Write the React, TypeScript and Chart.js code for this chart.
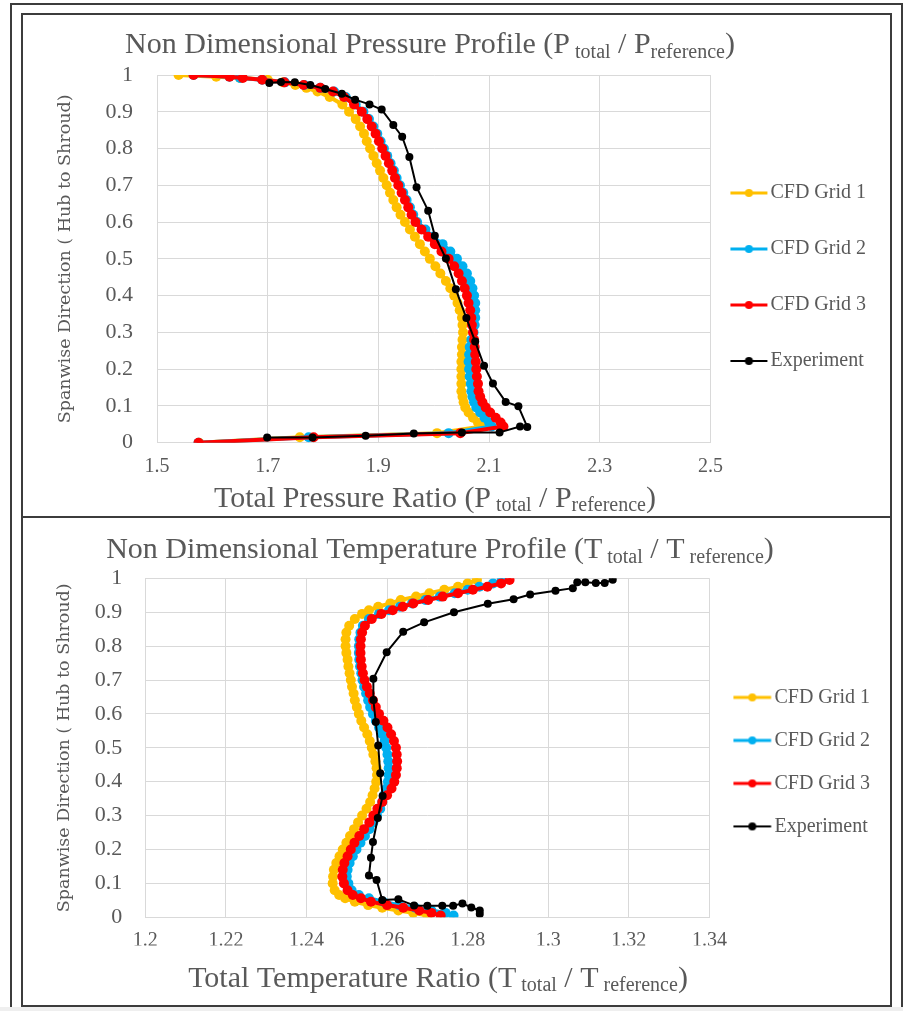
import React, { useEffect, useRef } from 'react';
import { Chart, registerables } from 'chart.js';

Chart.register(...registerables);

const SERIF = "'Liberation Serif', 'Times New Roman', serif";
const WIDE_SERIF = "'DejaVu Serif', serif";
const TEXT_GRAY = '#595959';
const GRID_GRAY = '#d9d9d9';

const seriesNames = ['CFD Grid 1', 'CFD Grid 2', 'CFD Grid 3', 'Experiment'];
const seriesColors = ['#FFC000', '#00B0F0', '#FF0000', '#000000'];

// ---------- axis ticks ----------
const spanTicks = [0, 0.1, 0.2, 0.3, 0.4, 0.5, 0.6, 0.7, 0.8, 0.9, 1];
const spanTickLabels = ['0', '0.1', '0.2', '0.3', '0.4', '0.5', '0.6', '0.7', '0.8', '0.9', '1'];
const pressureTicks = [1.5, 1.7, 1.9, 2.1, 2.3, 2.5];
const pressureTickLabels = ['1.5', '1.7', '1.9', '2.1', '2.3', '2.5'];
const tempTicks = [1.2, 1.22, 1.24, 1.26, 1.28, 1.3, 1.32, 1.34];
const tempTickLabels = ['1.2', '1.22', '1.24', '1.26', '1.28', '1.3', '1.32', '1.34'];

// ---------- pressure profile (top chart) ----------
const spanCfdP = [0, 0.015, 0.026, 0.044, 0.055, 0.068, 0.082, 0.096, 0.110, 0.125,
  0.14, 0.16, 0.18, 0.20, 0.22, 0.24, 0.26, 0.28, 0.30, 0.32,
  0.34, 0.36, 0.38, 0.40, 0.42, 0.44, 0.46, 0.48, 0.50, 0.52,
  0.54, 0.56, 0.58, 0.60, 0.62, 0.64, 0.66, 0.68, 0.70, 0.72,
  0.74, 0.76, 0.78, 0.80, 0.82, 0.84, 0.86, 0.88, 0.90, 0.92,
  0.94, 0.955, 0.965, 0.973, 0.980, 0.987, 0.992, 0.995, 1.0];
const grid1P = [1.576, 1.758, 2.006, 2.087, 2.080, 2.071, 2.063, 2.057, 2.054, 2.052,
  2.050, 2.050, 2.050, 2.050, 2.050, 2.051, 2.051, 2.052, 2.053, 2.052,
  2.051, 2.047, 2.043, 2.037, 2.030, 2.022, 2.012, 2.003, 1.993, 1.984,
  1.975, 1.966, 1.957, 1.948, 1.940, 1.933, 1.927, 1.921, 1.915, 1.909,
  1.903, 1.897, 1.891, 1.885, 1.879, 1.874, 1.867, 1.859, 1.847, 1.835,
  1.812, 1.790, 1.770, 1.750, 1.728, 1.700, 1.650, 1.607, 1.539];
const grid2P = [1.575, 1.774, 2.027, 2.105, 2.100, 2.092, 2.084, 2.077, 2.073, 2.070,
  2.068, 2.067, 2.065, 2.064, 2.063, 2.064, 2.065, 2.068, 2.072, 2.074,
  2.075, 2.075, 2.075, 2.073, 2.070, 2.066, 2.060, 2.052, 2.042, 2.030,
  2.016, 1.998, 1.985, 1.970, 1.963, 1.957, 1.951, 1.945, 1.939, 1.933,
  1.928, 1.922, 1.916, 1.910, 1.904, 1.898, 1.891, 1.883, 1.873, 1.859,
  1.841, 1.820, 1.795, 1.766, 1.731, 1.690, 1.650, 1.631, 1.566];
const grid3P = [1.575, 1.783, 2.048, 2.126, 2.121, 2.112, 2.102, 2.094, 2.088, 2.084,
  2.081, 2.080, 2.078, 2.077, 2.076, 2.075, 2.074, 2.073, 2.071, 2.069,
  2.068, 2.066, 2.063, 2.060, 2.056, 2.051, 2.045, 2.037, 2.027, 2.014,
  2.002, 1.990, 1.978, 1.967, 1.960, 1.954, 1.948, 1.942, 1.936, 1.930,
  1.925, 1.919, 1.913, 1.907, 1.901, 1.895, 1.888, 1.880, 1.870, 1.856,
  1.838, 1.818, 1.795, 1.765, 1.730, 1.690, 1.655, 1.631, 1.566];
const expP = [1.699, 1.781, 1.877, 1.964, 2.051, 2.119, 2.156, 2.169, 2.153, 2.130,
  2.107, 2.091, 2.075, 2.059, 2.040, 2.022, 2.002, 1.990, 1.969, 1.956,
  1.943, 1.927, 1.906, 1.884, 1.858, 1.834, 1.804, 1.777, 1.749, 1.724, 1.703];
const spanExpP = [0.014, 0.014, 0.019, 0.025, 0.028, 0.028, 0.044, 0.043, 0.099, 0.111,
  0.161, 0.209, 0.275, 0.339, 0.417, 0.501, 0.563, 0.631, 0.695, 0.777,
  0.832, 0.864, 0.906, 0.920, 0.933, 0.949, 0.962, 0.973, 0.980, 0.981, 0.978];

// ---------- temperature profile (bottom chart) ----------
const spanCfdT = [0.005, 0.013, 0.020, 0.028, 0.036, 0.046, 0.056, 0.066, 0.080, 0.100,
  0.12, 0.14, 0.16, 0.18, 0.20, 0.22, 0.24, 0.26, 0.28, 0.30,
  0.32, 0.34, 0.36, 0.38, 0.40, 0.42, 0.44, 0.46, 0.48, 0.50,
  0.52, 0.54, 0.56, 0.58, 0.60, 0.62, 0.64, 0.66, 0.68, 0.70,
  0.72, 0.74, 0.76, 0.78, 0.80, 0.82, 0.84, 0.86,
  0.880, 0.895, 0.906, 0.916, 0.926, 0.936, 0.946, 0.956, 0.966, 0.975, 0.985, 0.995];
const grid1T = [1.2700, 1.2665, 1.2628, 1.2588, 1.2553, 1.2520, 1.2496, 1.2481, 1.2470, 1.2465,
  1.2466, 1.2468, 1.2474, 1.2482, 1.2490, 1.2499, 1.2508, 1.2518, 1.2528, 1.2538,
  1.2549, 1.2558, 1.2564, 1.2569, 1.2573, 1.2575, 1.2574, 1.2571, 1.2566, 1.2562,
  1.2557, 1.2551, 1.2543, 1.2536, 1.2530, 1.2525, 1.2520, 1.2517, 1.2513, 1.2510,
  1.2507, 1.2504, 1.2502, 1.2499, 1.2497, 1.2497, 1.2499, 1.2506,
  1.2520, 1.2538, 1.2555, 1.2578, 1.2608, 1.2634, 1.2672, 1.2705, 1.2742, 1.2776, 1.2800, 1.2823];
const grid2T = [1.2765, 1.2745, 1.2710, 1.2670, 1.2630, 1.2590, 1.2555, 1.2530, 1.2512, 1.2504,
  1.2500, 1.2502, 1.2507, 1.2515, 1.2524, 1.2534, 1.2545, 1.2556, 1.2566, 1.2575,
  1.2583, 1.2588, 1.2592, 1.2598, 1.2602, 1.2604, 1.2604, 1.2603, 1.2601, 1.2598,
  1.2594, 1.2588, 1.2580, 1.2572, 1.2565, 1.2558, 1.2553, 1.2548, 1.2543, 1.2539,
  1.2536, 1.2533, 1.2531, 1.2530, 1.2530, 1.2531, 1.2534, 1.2540,
  1.2555, 1.2580, 1.2605, 1.2632, 1.2662, 1.2695, 1.2731, 1.2768, 1.2800, 1.2829, 1.2863, 1.2885];
const grid3T = [1.2733, 1.2710, 1.2680, 1.2640, 1.2600, 1.2560, 1.2535, 1.2515, 1.2502, 1.2493,
  1.2489, 1.2490, 1.2494, 1.2502, 1.2510, 1.2519, 1.2531, 1.2543, 1.2556, 1.2566,
  1.2576, 1.2588, 1.2600, 1.2611, 1.2618, 1.2622, 1.2624, 1.2625, 1.2624, 1.2622,
  1.2617, 1.2610, 1.2601, 1.2591, 1.2580, 1.2572, 1.2565, 1.2557, 1.2550, 1.2544,
  1.2540, 1.2537, 1.2535, 1.2534, 1.2534, 1.2535, 1.2538, 1.2545,
  1.2562, 1.2586, 1.2614, 1.2639, 1.2665, 1.2702, 1.2738, 1.2776, 1.2813, 1.2849, 1.2883, 1.2904];
const expT = [1.2830, 1.2830, 1.2809, 1.2787, 1.2764, 1.2737, 1.2700, 1.2667, 1.2628, 1.2588,
  1.2574, 1.2555, 1.2560, 1.2565, 1.2577, 1.2589, 1.2583, 1.2578, 1.2572, 1.2566,
  1.2566, 1.2599, 1.2640, 1.2692, 1.2766, 1.2850, 1.2914, 1.2955, 1.3018, 1.3061,
  1.3072, 1.3092, 1.3118, 1.3140, 1.3160];
const spanExpT = [0.010, 0.020, 0.029, 0.041, 0.034, 0.034, 0.034, 0.035, 0.053, 0.051,
  0.110, 0.123, 0.176, 0.222, 0.293, 0.358, 0.425, 0.507, 0.576, 0.641,
  0.704, 0.782, 0.842, 0.870, 0.900, 0.925, 0.938, 0.952, 0.963, 0.971,
  0.988, 0.988, 0.986, 0.986, 0.996];

// ---------- titles (rich text with subscripts) ----------
type Seg = { text: string; size: number; sub?: boolean };
const pressureTitle: Seg[] = [
  { text: 'Non Dimensional Pressure Profile (P', size: 30 },
  { text: ' total', size: 20, sub: true },
  { text: ' / P', size: 30 },
  { text: 'reference', size: 20, sub: true },
  { text: ')', size: 30 },
];
const pressureXTitle: Seg[] = [
  { text: 'Total Pressure Ratio (P', size: 30 },
  { text: ' total', size: 20, sub: true },
  { text: ' / P', size: 30 },
  { text: 'reference', size: 20, sub: true },
  { text: ')', size: 30 },
];
const tempTitle: Seg[] = [
  { text: 'Non Dimensional Temperature Profile (T', size: 30 },
  { text: ' total', size: 20, sub: true },
  { text: ' / T', size: 30 },
  { text: ' reference', size: 20, sub: true },
  { text: ')', size: 30 },
];
const tempXTitle: Seg[] = [
  { text: 'Total Temperature Ratio (T', size: 30 },
  { text: ' total', size: 20, sub: true },
  { text: ' / T', size: 30 },
  { text: ' reference', size: 20, sub: true },
  { text: ')', size: 30 },
];
const yTitleText = 'Spanwise Direction ( Hub to Shroud)';

const richTitlePlugin = {
  id: 'richTitle',
  afterDraw(chart: any, _args: any, opts: any) {
    const ctx = chart.ctx;
    (opts.blocks || []).forEach((b: any) => {
      ctx.save();
      ctx.fillStyle = TEXT_GRAY;
      ctx.textAlign = 'left';
      ctx.textBaseline = 'alphabetic';
      const widths = b.segs.map((s: Seg) => {
        ctx.font = `${s.size}px ${SERIF}`;
        return ctx.measureText(s.text).width;
      });
      const total = widths.reduce((a: number, w: number) => a + w, 0);
      let x = b.cx - total / 2;
      b.segs.forEach((s: Seg, i: number) => {
        ctx.font = `${s.size}px ${SERIF}`;
        ctx.fillText(s.text, x, b.y + (s.sub ? 4.5 : 0));
        x += widths[i];
      });
      ctx.restore();
    });
  },
};

function makeIcon(color: string, lineW: number, w: number, start: number, len: number, r: number) {
  const c = document.createElement('canvas');
  c.width = w;
  c.height = 12;
  const g = c.getContext('2d')!;
  g.strokeStyle = color;
  g.lineWidth = lineW;
  g.beginPath();
  g.moveTo(start, 6);
  g.lineTo(start + len, 6);
  g.stroke();
  g.fillStyle = color;
  g.beginPath();
  g.arc(start + len / 2, 6, r, 0, Math.PI * 2);
  g.fill();
  return c;
}

function zip(xs: number[], ys: number[]) {
  return xs.map((x, i) => ({ x, y: ys[i] }));
}

type Layout = {
  xs: number[][];
  ys: number[][];
  xMin: number;
  xMax: number;
  xTicks: number[];
  xTickLabels: string[];
  padding: { top: number; left: number; right: number; bottom: number };
  yAxisWidth: number;
  xAxisHeight: number;
  yTitlePad: number;
  xTickPad: number;
  yTickPad: number;
  legendPad: number;
  legendBoxW: number;
  iconStart: number;
  iconLen: number;
  blocks: any[];
};

function buildConfig(L: Layout): any {
  const icons = seriesColors.map((c, i) =>
    makeIcon(c, i === 3 ? 2 : 3, 50, L.iconStart, L.iconLen, 4)
  );
  const datasets = seriesNames.map((name, i) => ({
    label: name,
    data: zip(L.xs[i], L.ys[i]),
    showLine: true,
    borderColor: seriesColors[i],
    backgroundColor: seriesColors[i],
    borderWidth: i === 3 ? 2 : 4,
    borderJoinStyle: 'round',
    borderCapStyle: 'round',
    pointRadius: i === 3 ? 4 : 5,
    pointBorderWidth: 0,
    pointStyle: 'circle',
    tension: 0,
    order: 4 - i,
  }));
  return {
    type: 'scatter',
    data: { datasets },
    options: {
      responsive: false,
      animation: false,
      events: [],
      layout: { padding: L.padding },
      scales: {
        x: {
          type: 'linear',
          position: 'bottom',
          min: L.xMin,
          max: L.xMax,
          afterBuildTicks: (s: any) => {
            s.ticks = L.xTicks.map((v) => ({ value: v }));
          },
          afterFit: (s: any) => {
            s.height = L.xAxisHeight;
          },
          ticks: {
            padding: L.xTickPad,
            color: TEXT_GRAY,
            font: { family: SERIF, size: 20 },
            maxRotation: 0,
            autoSkip: false,
            callback: (_v: any, idx: number) => L.xTickLabels[idx],
          },
          grid: { color: GRID_GRAY, lineWidth: 1, drawTicks: false },
          border: { display: true, color: GRID_GRAY },
        },
        y: {
          type: 'linear',
          min: 0,
          max: 1,
          afterBuildTicks: (s: any) => {
            s.ticks = spanTicks.map((v) => ({ value: v }));
          },
          afterFit: (s: any) => {
            s.width = L.yAxisWidth;
          },
          ticks: {
            padding: L.yTickPad,
            color: TEXT_GRAY,
            font: { family: SERIF, size: 22 },
            autoSkip: false,
            callback: (_v: any, idx: number) => spanTickLabels[idx],
          },
          grid: { color: GRID_GRAY, lineWidth: 1, drawTicks: false },
          border: { display: true, color: GRID_GRAY },
          title: {
            display: true,
            text: yTitleText,
            color: TEXT_GRAY,
            font: { family: WIDE_SERIF, size: 17.5 },
            padding: { top: L.yTitlePad, bottom: 0 },
          },
        },
      },
      plugins: {
        tooltip: { enabled: false },
        title: { display: false },
        legend: {
          display: true,
          position: 'right',
          align: 'center',
          labels: {
            usePointStyle: true,
            pointStyleWidth: L.legendBoxW,
            padding: L.legendPad,
            color: TEXT_GRAY,
            font: { family: SERIF, size: 20 },
            generateLabels: () =>
              seriesNames.map((n, i) => ({
                text: n,
                pointStyle: icons[i],
                fillStyle: seriesColors[i],
                strokeStyle: seriesColors[i],
                lineWidth: 0,
                hidden: false,
                datasetIndex: i,
                fontColor: TEXT_GRAY,
              })),
          },
        },
        richTitle: { blocks: L.blocks },
      },
    },
    plugins: [richTitlePlugin],
  };
}

function ChartCanvas({ left, top, width, height, layout }: any) {
  const ref = useRef<HTMLCanvasElement | null>(null);
  useEffect(() => {
    const chart = new Chart(ref.current as HTMLCanvasElement, buildConfig(layout));
    return () => chart.destroy();
  }, []);
  return (
    <canvas
      ref={ref}
      width={width}
      height={height}
      style={{ position: 'absolute', left, top, width, height }}
    />
  );
}

const pressureLayout: Layout = {
  xs: [grid1P, grid2P, grid3P, expP],
  ys: [spanCfdP, spanCfdP, spanCfdP, spanExpP],
  xMin: 1.5,
  xMax: 2.5,
  xTicks: pressureTicks,
  xTickLabels: pressureTickLabels,
  padding: { top: 60, left: 0, right: 14, bottom: 36 },
  yAxisWidth: 134,
  xAxisHeight: 36.3,
  yTitlePad: 31.5,
  xTickPad: 12,
  yTickPad: 24,
  legendPad: 36,
  legendBoxW: 14,
  iconStart: 2,
  iconLen: 37,
  blocks: [
    { cx: 407, y: 38.3, segs: pressureTitle },
    { cx: 412, y: 491.7, segs: pressureXTitle },
  ],
};

const tempLayout: Layout = {
  xs: [grid1T, grid2T, grid3T, expT],
  ys: [spanCfdT, spanCfdT, spanCfdT, spanExpT],
  xMin: 1.2,
  xMax: 1.34,
  xTicks: tempTicks,
  xTickLabels: tempTickLabels,
  padding: { top: 60.3, left: 0, right: 10, bottom: 59.5 },
  yAxisWidth: 122.3,
  xAxisHeight: 28.2,
  yTitlePad: 31,
  xTickPad: 11,
  yTickPad: 23,
  legendPad: 23,
  legendBoxW: 32,
  iconStart: 10,
  iconLen: 37.7,
  blocks: [
    { cx: 417, y: 40.3, segs: tempTitle },
    { cx: 415, y: 468.7, segs: tempXTitle },
  ],
};

export default function App() {
  const frame = '#3c3c3c';
  return (
    <div
      style={{
        position: 'absolute',
        left: 0,
        top: 0,
        width: 903,
        height: 1011,
        background: '#ffffff',
        overflow: 'hidden',
      }}
    >
      <div
        style={{
          position: 'absolute',
          left: 10,
          top: 3,
          width: 893,
          height: 1012,
          border: `2px solid ${frame}`,
          boxSizing: 'border-box',
        }}
      />
      <div
        style={{
          position: 'absolute',
          left: 21,
          top: 13,
          width: 871,
          height: 994,
          border: `2px solid ${frame}`,
          boxSizing: 'border-box',
        }}
      />
      <div
        style={{
          position: 'absolute',
          left: 21,
          top: 516,
          width: 871,
          height: 2,
          background: frame,
        }}
      />
      <ChartCanvas left={23} top={15} width={867} height={500} layout={pressureLayout} />
      <ChartCanvas left={23} top={518} width={867} height={487} layout={tempLayout} />
      <div
        style={{
          position: 'absolute',
          left: 0,
          top: 1007,
          width: 903,
          height: 4,
          background: '#efefef',
        }}
      />
    </div>
  );
}
